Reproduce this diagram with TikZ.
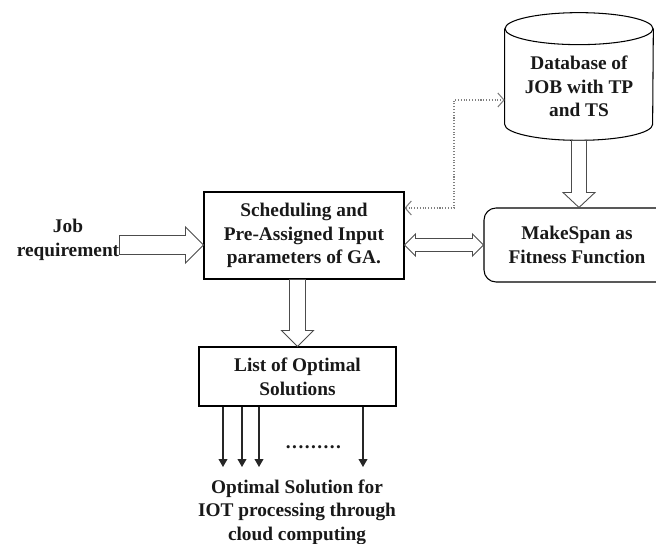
\documentclass[tikz,border=0pt]{standalone}
\usepackage{fontspec}
\setmainfont{Liberation Serif}
\usetikzlibrary{arrows.meta, calc}
\tikzset{
  lbl/.style    ={font=\bfseries\fontsize{11}{13.5}\selectfont, align=center,
                  text=black!90},
  blk/.style    ={draw, lbl, line width=0.6pt, inner sep=0pt},
  rblk/.style   ={blk, rounded corners=0.24cm},
  % block arrows drawn as outlines along start -> target
  along/.style  ={shift={(\p1)}, rotate=\n1},
  fat/.style n args={3}{draw=black!70, fill=white, line width=0.5pt,
    to path={let \p1=(\tikztostart), \p2=(\tikztotarget),
                 \n1={atan2(\y2-\y1,\x2-\x1)}, \n2={veclen(\x2-\x1,\y2-\y1)} in
      ([along]0pt,#1) -- ([along]{\n2*1pt-#3},#1) -- ([along]{\n2*1pt-#3},#2)
      -- ([along]{\n2*1pt},0pt) -- ([along]{\n2*1pt-#3},-#2)
      -- ([along]{\n2*1pt-#3},-#1) -- ([along]0pt,-#1) -- cycle}},
  fatboth/.style n args={3}{draw=black!70, fill=white, line width=0.5pt,
    to path={let \p1=(\tikztostart), \p2=(\tikztotarget),
                 \n1={atan2(\y2-\y1,\x2-\x1)}, \n2={veclen(\x2-\x1,\y2-\y1)} in
      ([along]0pt,0pt) -- ([along]#3,#2) -- ([along]#3,#1)
      -- ([along]{\n2*1pt-#3},#1) -- ([along]{\n2*1pt-#3},#2)
      -- ([along]{\n2*1pt},0pt) -- ([along]{\n2*1pt-#3},-#2)
      -- ([along]{\n2*1pt-#3},-#1) -- ([along]#3,-#1)
      -- ([along]#3,-#2) -- cycle}},
  dn/.style     ={-{Triangle[length=4.5pt, width=5pt]}, line width=0.6pt,
                  black!85},
  dotlink/.style={{Straight Barb[length=3.5pt, width=8pt]}-{Straight Barb[length=3.5pt, width=8pt]},
                  densely dotted, black!50, line width=0.6pt},
}

\begin{document}
\begin{tikzpicture}[x=0.02cm, y=0.02cm]
  \useasboundingbox (0,0) rectangle (656,544);
  \clip (0,0) rectangle (656,544);
  % ---- boxes
  \node[blk, minimum width=4cm, minimum height=1.74cm] (sched) at (304,308.5)
    {Scheduling and\\Pre-Assigned Input\\parameters of GA.};
  \node[lbl, inner sep=0pt] (job) at (68,304) {Job\\requirement};
  \node[blk, minimum width=3.94cm, minimum height=1.18cm] (list) at (297.5,167.5)
    {List of Optimal\\Solutions};
  \node[lbl, anchor=north, inner ysep=7pt] (out) at (297,77)
    {Optimal Solution for\\IOT processing through\\cloud computing};
  \node[rblk, minimum width=3.72cm, minimum height=1.48cm] (ms) at (577,299)
    {MakeSpan as\\Fitness Function};
  % ---- database cylinder
  \node[minimum width=2.96cm, minimum height=2.54cm, inner sep=0pt] (db)
    at (579,467.5) {};
  \node[lbl] (dbtxt) at ([yshift=-0.2cm]db.center)
    {Database of\\JOB with TP\\and TS};
  \draw[line width=0.6pt] ([yshift=-0.32cm]db.north)
    ellipse[x radius=1.48cm, y radius=0.32cm];
  \draw[line width=0.6pt] ([yshift=-0.32cm]db.north west)
    -- ([yshift=0.32cm]db.south west)
    arc[start angle=180, end angle=360, x radius=1.48cm, y radius=0.32cm]
    -- ([yshift=-0.32cm]db.north east);
  % ---- block arrows
  \coordinate (jin) at ([yshift=-0.19cm]sched.west);
  \draw[fat={0.19cm}{0.36cm}{0.36cm}] (job.east |- jin) to (jin);
  \draw[fat={0.16cm}{0.32cm}{0.32cm}] (sched.south -| list.north) to (list.north);
  \draw[fat={0.15cm}{0.32cm}{0.30cm}] (db.south) to (db.south |- ms.north);
  \draw[fatboth={0.13cm}{0.22cm}{0.22cm}] (sched.east |- ms.west) to (ms.west);
  % ---- dotted link to the database
  \coordinate (bend) at (454,444);
  \draw[dotlink] ([yshift=0.55cm]sched.east) -| (bend) -- (bend -| db.west);
  % ---- outputs
  \foreach \x in {223,242,259,363}
    \draw[dn] (\x,0 |- list.south) -- (\x,0 |- out.north);
  \node[lbl, anchor=base, inner sep=0pt] (dots) at (313.5,95)
    {\addfontfeatures{LetterSpace=7.5}.........};
\end{tikzpicture}
\end{document}
